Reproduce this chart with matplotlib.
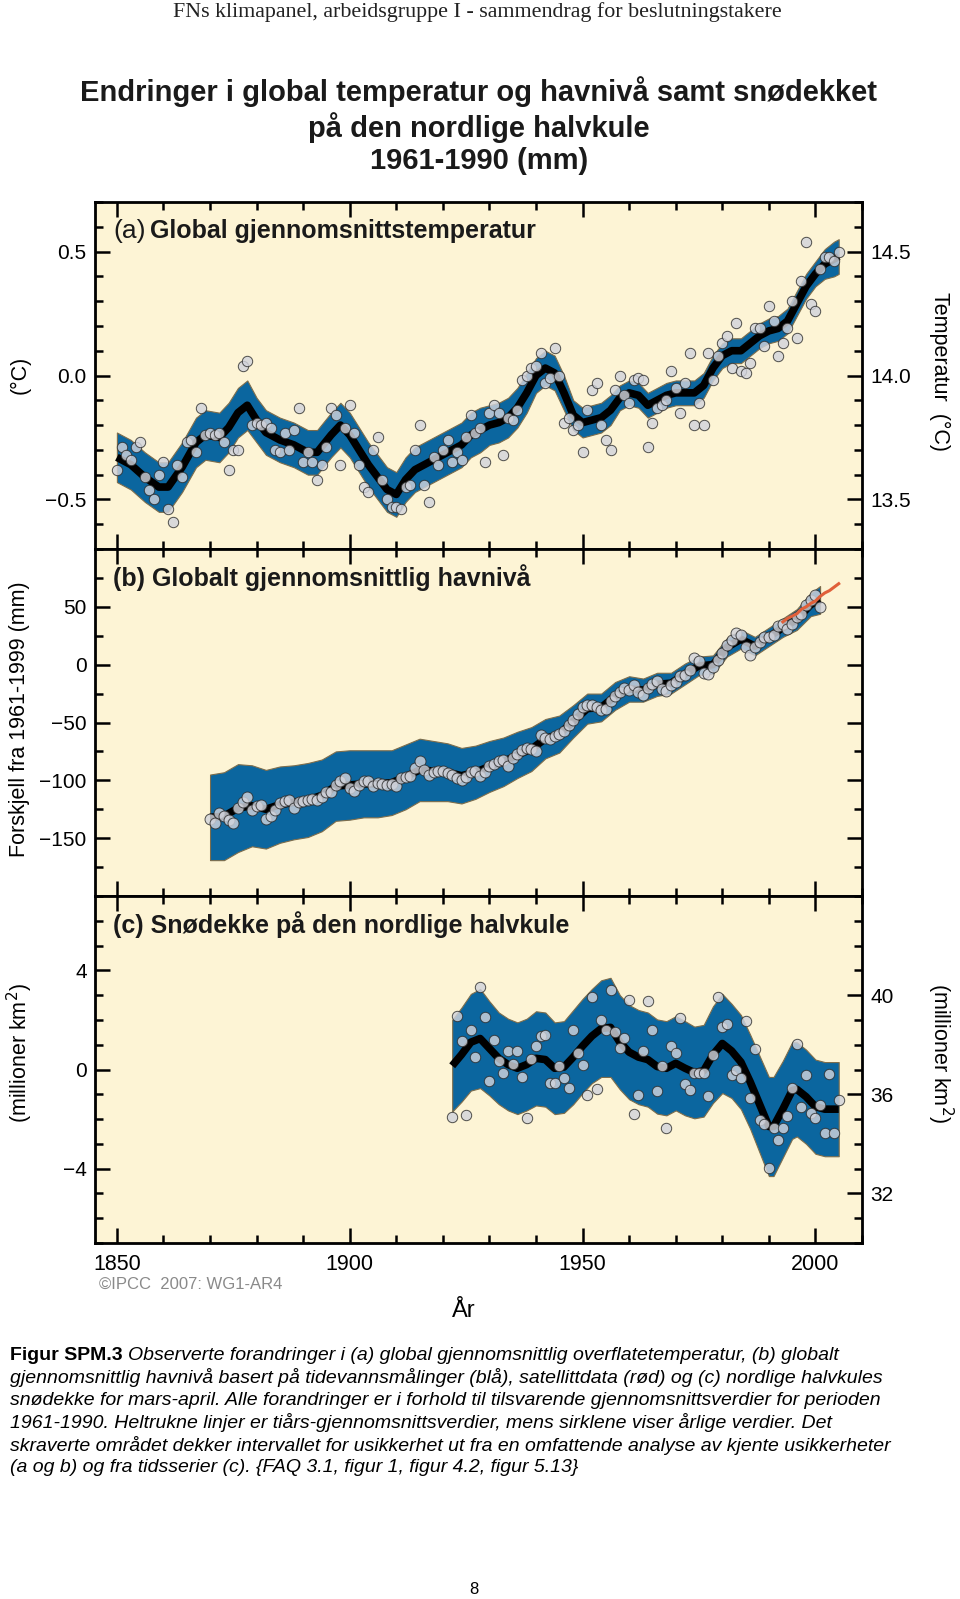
import matplotlib.pyplot as plt
from matplotlib.ticker import MultipleLocator, FixedLocator

plt.rcParams['font.family'] = ['Liberation Sans', 'DejaVu Sans']

W, H = 960, 1599

# ---------------------------------------------------------------------------
# (a) global mean temperature, anomaly vs 1961-1990 (deg C), annual values
temp_years = list(range(1850, 2006))
temp_values = [
    -0.38, -0.29, -0.32, -0.34, -0.29, -0.27, -0.41, -0.46, -0.50, -0.40,
    -0.35, -0.54, -0.59, -0.36, -0.41, -0.27, -0.26, -0.31, -0.13, -0.24,
    -0.23, -0.24, -0.23, -0.27, -0.38, -0.30, -0.30, 0.04, 0.06, -0.20,
    -0.19, -0.20, -0.19, -0.21, -0.30, -0.31, -0.23, -0.30, -0.22, -0.13,
    -0.35, -0.31, -0.35, -0.42, -0.36, -0.29, -0.13, -0.16, -0.36, -0.21,
    -0.12, -0.23, -0.36, -0.45, -0.47, -0.30, -0.25, -0.42, -0.50, -0.53,
    -0.53, -0.54, -0.45, -0.44, -0.30, -0.20, -0.44, -0.51, -0.33, -0.36,
    -0.30, -0.26, -0.35, -0.31, -0.34, -0.25, -0.16, -0.23, -0.21, -0.35,
    -0.15, -0.12, -0.15, -0.32, -0.17, -0.18, -0.14, -0.02, 0.00, 0.03,
    0.04, 0.09, -0.03, -0.01, 0.11, 0.00, -0.19, -0.17, -0.22, -0.20,
    -0.31, -0.14, -0.06, -0.03, -0.20, -0.26, -0.30, -0.06, 0.00, -0.08,
    -0.11, -0.02, -0.01, -0.02, -0.29, -0.19, -0.13, -0.12, -0.10, 0.02,
    -0.05, -0.15, -0.03, 0.09, -0.20, -0.11, -0.20, 0.09, -0.02, 0.08,
    0.13, 0.16, 0.03, 0.21, 0.02, 0.01, 0.05, 0.19, 0.19, 0.12,
    0.28, 0.22, 0.08, 0.13, 0.19, 0.30, 0.15, 0.38, 0.54, 0.29,
    0.26, 0.43, 0.48, 0.48, 0.46, 0.50,
]
# decadal curve and half width of the uncertainty band
temp_smooth_years = [1850, 1853, 1856, 1859, 1861, 1864, 1867, 1869, 1872, 1874,
                     1876, 1878, 1880, 1882, 1885, 1888, 1891, 1893, 1896, 1898,
                     1900, 1902, 1904, 1906, 1908, 1910, 1912, 1914, 1916, 1918,
                     1920, 1922, 1924, 1926, 1928, 1930, 1932, 1934, 1936, 1938,
                     1940, 1942, 1944, 1946, 1948, 1950, 1952, 1954, 1956, 1958,
                     1960, 1962, 1964, 1966, 1968, 1970, 1972, 1974, 1976, 1978,
                     1980, 1982, 1984, 1986, 1988, 1990, 1992, 1994, 1996, 1998,
                     2000, 2002, 2004, 2005]
temp_smooth = [-0.33, -0.36, -0.41, -0.45, -0.45, -0.37, -0.27, -0.24, -0.25, -0.21,
               -0.15, -0.12, -0.18, -0.23, -0.26, -0.28, -0.31, -0.31, -0.24, -0.20,
               -0.24, -0.30, -0.36, -0.41, -0.46, -0.48, -0.42, -0.38, -0.36, -0.34,
               -0.32, -0.30, -0.28, -0.24, -0.22, -0.20, -0.19, -0.17, -0.13, -0.07,
               0.00, 0.03, 0.01, -0.07, -0.16, -0.19, -0.18, -0.17, -0.14, -0.09,
               -0.07, -0.08, -0.12, -0.10, -0.08, -0.07, -0.07, -0.07, -0.04, 0.03,
               0.08, 0.10, 0.10, 0.13, 0.16, 0.18, 0.19, 0.22, 0.29, 0.36,
               0.41, 0.45, 0.47, 0.48]
temp_band = [0.10, 0.10, 0.10, 0.10, 0.10, 0.10, 0.10, 0.10, 0.10, 0.10,
             0.10, 0.10, 0.09, 0.09, 0.09, 0.09, 0.09, 0.09, 0.09, 0.09,
             0.09, 0.09, 0.09, 0.09, 0.09, 0.09, 0.09, 0.09, 0.09, 0.09,
             0.09, 0.09, 0.09, 0.09, 0.09, 0.08, 0.08, 0.08, 0.08, 0.08,
             0.07, 0.07, 0.07, 0.07, 0.06, 0.06, 0.06, 0.06, 0.06, 0.05,
             0.05, 0.05, 0.05, 0.05, 0.05, 0.05, 0.05, 0.05, 0.05, 0.05,
             0.05, 0.05, 0.05, 0.05, 0.05, 0.05, 0.05, 0.05, 0.05, 0.05,
             0.05, 0.06, 0.07, 0.07]

# ---------------------------------------------------------------------------
# (b) global mean sea level (mm), tide gauges and satellite
sea_years = list(range(1870, 2002))
sea_values = [
    -133, -137, -128, -131, -134, -137, -124, -119, -114, -126,
    -122, -121, -133, -131, -126, -120, -118, -117, -124, -119,
    -118, -117, -116, -117, -114, -110, -110, -104, -101, -98,
    -107, -109, -104, -101, -101, -105, -102, -103, -104, -103,
    -105, -98, -97, -96, -89, -83, -91, -95, -93, -92,
    -92, -94, -95, -98, -100, -97, -93, -92, -96, -93,
    -88, -86, -83, -82, -88, -81, -77, -74, -72, -73,
    -75, -61, -63, -64, -62, -60, -57, -52, -48, -43,
    -37, -35, -35, -37, -39, -38, -31, -27, -24, -20,
    -22, -18, -24, -26, -20, -17, -14, -21, -23, -18,
    -15, -10, -9, -5, 6, 3, -7, -8, -2, 4,
    10, 17, 21, 27, 26, 15, 8, 15, 20, 24,
    24, 26, 33, 35, 31, 35, 41, 44, 52, 56,
    60, 50,
]
sea_smooth_years = [1870, 1873, 1876, 1879, 1882, 1885, 1888, 1891, 1894, 1897,
                    1900, 1903, 1906, 1909, 1912, 1915, 1918, 1921, 1924, 1927,
                    1930, 1933, 1936, 1939, 1942, 1945, 1948, 1951, 1954, 1957,
                    1960, 1963, 1966, 1969, 1972, 1975, 1978, 1981, 1984, 1987,
                    1990, 1993, 1996, 1999, 2001]
sea_smooth = [-132, -131, -124, -122, -125, -121, -119, -117, -113, -105,
              -104, -103, -103, -102, -97, -91, -92, -93, -96, -93,
              -88, -84, -78, -73, -64, -60, -49, -38, -37, -27,
              -21, -22, -17, -16, -8, -1, 0, 15, 22, 16,
              24, 32, 39, 52, 56]
sea_band = [37, 38, 38, 35, 34, 33, 32, 32, 31, 30,
            30, 29, 29, 28, 28, 27, 26, 25, 24, 23,
            22, 21, 20, 19, 17, 16, 14, 13, 12, 12,
            11, 10, 10, 9, 9, 8, 8, 8, 8, 8,
            8, 8, 9, 10, 12]
sat_years = [1993, 1994, 1995, 1996, 1997, 1998, 1999, 2000, 2001, 2002, 2003, 2004, 2005]
sat_values = [37, 40, 42, 44, 48, 50, 53, 55, 59, 62, 64, 67, 70]

# ---------------------------------------------------------------------------
# (c) NH March-April snow cover, anomaly (million km2)
snow_years = list(range(1922, 2006))
snow_values = [
    -1.91, 2.17, 1.14, -1.85, 1.60, 0.50, 3.31, 2.13, -0.46, 1.21,
    0.34, -0.13, 0.75, 0.24, 0.73, -0.30, -1.94, 0.42, 0.94, 1.35,
    1.38, -0.55, -0.55, 0.14, -0.34, -0.74, 1.60, 0.67, 0.19, -1.04,
    2.91, -0.80, 2.00, 1.58, 3.22, 1.51, 0.88, 1.28, 2.80, -1.80,
    -1.04, 0.75, 2.76, 1.58, -0.86, 0.15, -2.38, 0.96, 0.65, 2.06,
    -0.57, -0.84, -0.13, -0.13, -0.13, -1.08, 0.58, 2.94, 1.72, 1.82,
    -0.24, 0.00, -0.33, 1.96, -1.17, 0.82, -2.05, -2.19, -3.96, -2.38,
    -2.86, -2.38, -1.89, -0.74, 1.01, -1.51, -0.24, -1.75, -1.94, -1.45,
    -2.55, -0.20, -2.55, -1.24,
]
snow_smooth_years = [1922, 1924, 1926, 1928, 1930, 1932, 1934, 1936, 1938, 1940,
                     1942, 1944, 1946, 1948, 1950, 1952, 1954, 1956, 1958, 1960,
                     1962, 1964, 1966, 1968, 1970, 1972, 1974, 1976, 1978, 1980,
                     1982, 1984, 1986, 1988, 1990, 1991, 1993, 1995, 1996, 1998,
                     2000, 2002, 2005]
snow_smooth = [0.15, 0.60, 1.10, 1.25, 0.85, 0.45, 0.20, 0.05, 0.20, 0.45,
               0.40, 0.05, 0.10, 0.50, 0.95, 1.35, 1.65, 1.70, 1.10, 0.70,
               0.50, 0.40, 0.12, 0.05, 0.25, 0.05, -0.12, -0.05, 0.60, 1.05,
               0.75, 0.30, -0.50, -1.40, -2.30, -2.30, -1.60, -0.85, -0.80, -1.10,
               -1.50, -1.60, -1.60]
snow_band = [1.85, 1.90, 1.95, 2.00, 1.90, 1.85, 1.85, 1.85, 1.85, 1.90,
             1.90, 1.85, 1.85, 1.90, 1.90, 1.90, 1.95, 2.00, 1.90, 1.90,
             1.90, 1.90, 1.90, 1.90, 1.90, 1.90, 1.85, 1.85, 1.95, 2.00,
             1.90, 1.90, 1.90, 1.95, 2.00, 2.00, 1.95, 1.95, 1.90, 1.90,
             1.90, 1.90, 1.90]

BAND = '#0b669f'
BG = '#fdf4d5'
INK = '#1a1a1a'


def fx(px):
    return px / W


def fy(py):
    return 1 - py / H


def band_and_curve(ax, yrs, mid, hw):
    lo = [m - h for m, h in zip(mid, hw)]
    hi = [m + h for m, h in zip(mid, hw)]
    ax.fill_between(yrs, lo, hi, color=BAND, edgecolor='#7d6d4c', lw=0.8, zorder=2)
    ax.plot(yrs, mid, color='black', lw=5.5, solid_joinstyle='round',
            solid_capstyle='butt', zorder=3)


def dots(ax, x, y, size=56):
    ax.scatter(x, y, s=size, facecolor='#d2d4dc', edgecolor='#2b2b2b',
               linewidth=0.7, alpha=0.82, zorder=4)


def ticks(ax):
    ax.tick_params(which='both', direction='in', width=1.8, labelsize=15, pad=6)
    ax.tick_params(which='major', length=11)
    ax.tick_params(which='minor', length=6)


def style(ax, minor):
    ax.set_facecolor(BG)
    ax.set_xlim(1845.3, 2010)
    ax.xaxis.set_major_locator(MultipleLocator(50))
    ax.xaxis.set_minor_locator(MultipleLocator(10))
    ax.yaxis.set_minor_locator(MultipleLocator(minor))
    for s in ax.spines.values():
        s.set_linewidth(2.0)
    ticks(ax)
    ax.tick_params(which='both', top=True)


fig = plt.figure(figsize=(W / 100, H / 100), dpi=100)
x0, wd = fx(95), fx(862) - fx(95)
hgt = (549 - 202) / H

# ---- panel a
ax_a = fig.add_axes([x0, fy(549), wd, hgt])
style(ax_a, 0.1)
ax_a.set_ylim(-0.7, 0.7)
ax_a.yaxis.set_major_locator(FixedLocator([-0.5, 0.0, 0.5]))
ax_a.set_yticklabels(['\u22120.5', '0.0', '0.5'])
ax_a.tick_params(labelbottom=False)
band_and_curve(ax_a, temp_smooth_years, temp_smooth, temp_band)
dots(ax_a, temp_years, temp_values)
ax_a2 = ax_a.twinx()
ax_a2.set_ylim(13.3, 14.7)
ax_a2.yaxis.set_major_locator(FixedLocator([13.5, 14.0, 14.5]))
ax_a2.yaxis.set_minor_locator(MultipleLocator(0.1))
ax_a2.set_yticklabels(['13.5', '14.0', '14.5'])
ticks(ax_a2)

# ---- panel b
ax_b = fig.add_axes([x0, fy(896), wd, hgt])
style(ax_b, 25)
ax_b.set_ylim(-200, 100)
ax_b.yaxis.set_major_locator(FixedLocator([-150, -100, -50, 0, 50]))
ax_b.set_yticklabels(['\u2212150', '\u2212100', '\u221250', '0', '50'])
ax_b.tick_params(which='both', right=True, labelbottom=False)
band_and_curve(ax_b, sea_smooth_years, sea_smooth, sea_band)
dots(ax_b, sea_years, sea_values, size=62)
ax_b.plot(sat_years, sat_values, color='#e0603a', lw=2.2, zorder=5)

# ---- panel c
ax_c = fig.add_axes([x0, fy(1243), wd, hgt])
style(ax_c, 1)
ax_c.set_ylim(-7, 7)
ax_c.yaxis.set_major_locator(FixedLocator([-4, 0, 4]))
ax_c.set_yticklabels(['\u22124', '0', '4'])
ax_c.tick_params(axis='x', labelsize=15.5, pad=8)
band_and_curve(ax_c, snow_smooth_years, snow_smooth, snow_band)
dots(ax_c, snow_years, snow_values)
ax_c2 = ax_c.twinx()
ax_c2.set_ylim(30, 44)
ax_c2.yaxis.set_major_locator(FixedLocator([32, 36, 40]))
ax_c2.yaxis.set_minor_locator(MultipleLocator(1))
ax_c2.set_yticklabels(['32', '36', '40'])
ticks(ax_c2)

# ---- panel titles
fig.text(fx(113), fy(231), '(a)', fontsize=19, va='center', color=INK)
fig.text(fx(150), fy(231), 'Global gjennomsnittstemperatur', fontsize=18,
         fontweight='bold', va='center', color=INK)
fig.text(fx(113), fy(578), '(b) Globalt gjennomsnittlig havnivå', fontsize=18,
         fontweight='bold', va='center', color=INK)
fig.text(fx(113), fy(925), '(c) Snødekke på den nordlige halvkule', fontsize=18,
         fontweight='bold', va='center', color=INK)

# ---- axis labels
fig.text(fx(20), fy(375), '(°C)', rotation=90, fontsize=15.5, ha='center', va='center')
fig.text(fx(20), fy(719), 'Forskjell fra 1961-1999 (mm)', rotation=90, fontsize=15.5,
         ha='center', va='center')
fig.text(fx(20), fy(1053), '(millioner km$^2$)', rotation=90, fontsize=15.5,
         ha='center', va='center')
fig.text(fx(940), fy(372), 'Temperatur  (°C)', rotation=270, fontsize=15.5,
         ha='center', va='center')
fig.text(fx(940), fy(1053), '(millioner km$^2$)', rotation=270, fontsize=15.5,
         ha='center', va='center')
fig.text(fx(99), fy(1284), '©IPCC  2007: WG1-AR4', fontsize=12, color='#8a8a8a',
         va='center')
fig.text(fx(464), fy(1311), 'År', fontsize=17, ha='center', va='center')

# ---- header and title
fig.text(fx(477), fy(12), 'FNs klimapanel, arbeidsgruppe I - sammendrag for beslutningstakere',
         family=['Liberation Serif'], fontsize=15.8, ha='center', va='center',
         color='#222222')
for txt, y in [('Endringer i global temperatur og havnivå samt snødekket', 92),
               ('på den nordlige halvkule', 128),
               ('1961-1990 (mm)', 161)]:
    fig.text(fx(479), fy(y), txt, fontsize=21, fontweight='bold', ha='center',
             va='center', color=INK)

# ---- caption
caption = [
    'Observerte forandringer i (a) global gjennomsnittlig overflatetemperatur, (b) globalt',
    'gjennomsnittlig havnivå basert på tidevannsmålinger (blå), satellittdata (rød) og (c) nordlige halvkules',
    'snødekke for mars-april. Alle forandringer er i forhold til tilsvarende gjennomsnittsverdier for perioden',
    '1961-1990. Heltrukne linjer er tiårs-gjennomsnittsverdier, mens sirklene viser årlige verdier. Det',
    'skraverte området dekker intervallet for usikkerhet ut fra en omfattende analyse av kjente usikkerheter',
    '(a og b) og fra tidsserier (c). {FAQ 3.1, figur 1, figur 4.2, figur 5.13}',
]
lead = fig.text(fx(10), fy(1355), 'Figur SPM.3 ', fontsize=14, fontweight='bold',
                va='center')
renderer = fig.canvas.get_renderer()
lead_w = lead.get_window_extent(renderer).width
for i, line in enumerate(caption):
    xs = fx(10) + (lead_w / W if i == 0 else 0)
    fig.text(xs, fy(1355 + 22.6 * i), line, fontsize=14, style='italic', va='center')

fig.text(fx(474), fy(1590), '8', fontsize=12, ha='center', va='center')

fig.savefig('out.png', dpi=100, facecolor='white')
